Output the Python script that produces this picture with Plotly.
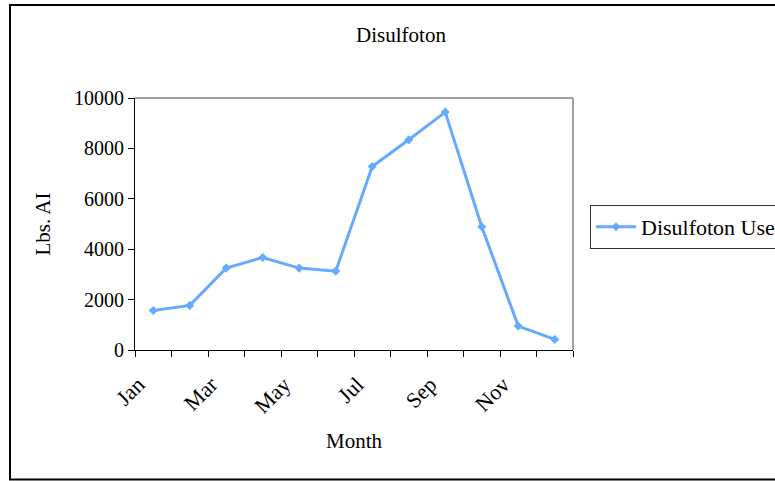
import plotly.graph_objects as go

months = ["Jan", "Feb", "Mar", "Apr", "May", "Jun", "Jul", "Aug", "Sep", "Oct", "Nov", "Dec"]
use_lbs = [1570, 1770, 3250, 3670, 3250, 3130, 7280, 8340, 9440, 4890, 950, 420]
y_ticks = [0, 2000, 4000, 6000, 8000, 10000]
label_months = ["Jan", "Mar", "May", "Jul", "Sep", "Nov"]

xpos = list(range(len(months)))
label_pos = [months.index(m) for m in label_months]
boundaries = [i - 0.5 for i in range(len(months) + 1)]

W, H = 775, 481
ML, MR, MT, MB = 135, 202, 98, 131
FONT = "Liberation Serif"

fig = go.Figure()
fig.add_trace(go.Scatter(
    x=xpos, y=use_lbs, mode="lines+markers", name="Disulfoton Use",
    line=dict(color="#66AAFF", width=3),
    marker=dict(symbol="diamond", size=7, color="#66AAFF"),
))

pw = W - ML - MR
ph = H - MT - MB
def px_x(p):
    return (p - ML) / pw
def px_y(p):
    return (H - MB - p) / ph

fig.add_shape(type="rect", xref="paper", yref="paper",
              x0=px_x(10), x1=px_x(800), y0=px_y(479.5), y1=px_y(5),
              line=dict(color="black", width=2), layer="below")

fig.update_layout(
    width=W, height=H,
    margin=dict(l=ML, r=MR, t=MT, b=MB),
    paper_bgcolor="white", plot_bgcolor="white",
    font=dict(family=FONT, size=20, color="black"),
    title=dict(text="Disulfoton", x=401 / W, xref="container", xanchor="center",
               y=1 - 35 / H, yref="container", yanchor="middle",
               font=dict(family=FONT, size=21)),
    showlegend=True,
    legend=dict(xref="container", yref="container", x=590 / W, y=1 - 205 / H,
                xanchor="left", yanchor="top", bordercolor="#333333", borderwidth=1,
                bgcolor="white", font=dict(family=FONT, size=22),
                itemwidth=40, tracegroupgap=0),
    xaxis=dict(
        range=[-0.5, len(months) - 0.5], showgrid=False, zeroline=False,
        showline=True, linecolor="black", linewidth=1, mirror=False,
        tickmode="array", tickvals=label_pos, ticktext=label_months,
        ticks="outside", ticklen=0, tickangle=-45, tickfont=dict(size=22),
        ticklabelstandoff=12, ticklabelshift=-15,
        minor=dict(tickmode="array", tickvals=boundaries, ticks="outside",
                   ticklen=6, tickcolor="black", tickwidth=1, showgrid=False),
        title=dict(text="Month", font=dict(size=21), standoff=16),
    ),
    yaxis=dict(
        range=[0, 10000], tickvals=y_ticks, tickformat="d", showgrid=False, zeroline=False,
        showline=True, linecolor="black", linewidth=1,
        ticks="outside", ticklen=6, tickcolor="black", tickfont=dict(size=20),
        title=dict(text="Lbs. AI", font=dict(size=21), standoff=17),
    ),
)

fig.add_shape(type="line", xref="paper", yref="paper", x0=0, x1=1, y0=1, y1=1,
              line=dict(color="#808080", width=1.5))
fig.add_shape(type="line", xref="paper", yref="paper", x0=1, x1=1, y0=0, y1=1,
              line=dict(color="#808080", width=1.5))

fig.write_html("out.html", config={"displayModeBar": False},
               post_script="document.body.style.margin='0';")
